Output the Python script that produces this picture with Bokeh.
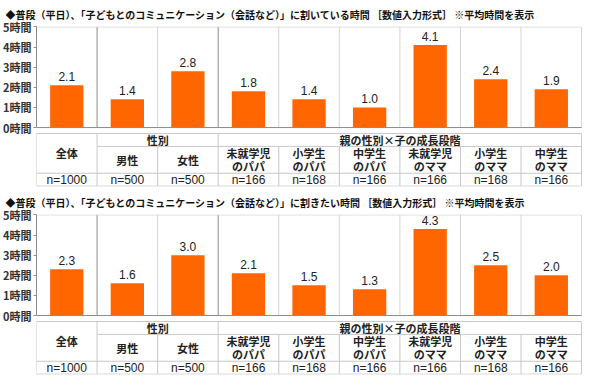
from bokeh.plotting import figure
from bokeh.models import ColumnDataSource, FixedTicker, Range1d
from bokeh.layouts import column
from bokeh.embed import file_html
from bokeh.resources import INLINE
from bokeh.core.properties import value

# ---------------- data ----------------
categories = ["全体", "男性", "女性",
              "未就学児\nのパパ", "小学生\nのパパ", "中学生\nのパパ",
              "未就学児\nのママ", "小学生\nのママ", "中学生\nのママ"]
sample_sizes = ["n=1000", "n=500", "n=500", "n=166", "n=168", "n=166",
                "n=166", "n=168", "n=166"]
spent_hours = [2.1, 1.4, 2.8, 1.8, 1.4, 1.0, 4.1, 2.4, 1.9]
wanted_hours = [2.3, 1.6, 3.0, 2.1, 1.5, 1.3, 4.3, 2.5, 2.0]
group_labels = ["性別", "親の性別×子の成長段階"]
group_first = [1, 3]
group_last = [3, 9]
panel_titles = [
    "◆普段（平日）、「子どもとのコミュニケーション（会話など）」に割いている時間 ［数値入力形式］ ※平均時間を表示",
    "◆普段（平日）、「子どもとのコミュニケーション（会話など）」に割きたい時間 ［数値入力形式］ ※平均時間を表示",
]
y_ticks = [0, 1, 2, 3, 4, 5]
y_tick_labels = ["0時間", "1時間", "2時間", "3時間", "4時間", "5時間"]

# ---------------- style ----------------
ORANGE = "#FF6600"
CJK = "Noto Sans CJK JP"
LAT = "Liberation Sans"
TXT = "#222222"
DARK_LINE = "#8c8c8c"
LIGHT_LINE = "#d4d4d4"
TABLE_LINE = "#c8c8c8"

W, H = 584, 188
TOP, BOTTOM, LEFT, RIGHT = 25, 2, 36, 2
Y0, Y1 = -2.93, 5.02
PXH = (H - TOP - BOTTOM) / (Y1 - Y0)   # pixels per hour


def py(px):
    return px / PXH


def make_panel(title, vals):
    n = len(categories)
    p = figure(width=W, height=H, x_range=Range1d(0, n + 0.015),
               y_range=Range1d(Y0, Y1), output_backend="svg",
               toolbar_location=None, min_border_left=LEFT,
               min_border_right=RIGHT, min_border_top=TOP,
               min_border_bottom=BOTTOM, x_axis_type=None, title=title)
    p.title.align = "left"
    p.title.offset = -31
    p.title.standoff = 9
    p.title.text_font = CJK
    p.title.text_font_style = "bold"
    p.title.text_font_size = "10px"
    p.title.text_color = "#111111"
    p.outline_line_color = None
    p.background_fill_color = "white"
    p.border_fill_color = "white"
    p.xgrid.visible = False
    p.ygrid.visible = False

    ax = p.yaxis[0]
    ax.ticker = FixedTicker(ticks=y_ticks)
    ax.major_label_overrides = {t: l for t, l in zip(y_ticks, y_tick_labels)}
    ax.bounds = (0, 5)
    ax.minor_tick_line_color = None
    ax.major_tick_out = 3
    ax.major_tick_in = 0
    ax.major_label_standoff = 2
    ax.axis_line_color = DARK_LINE
    ax.major_tick_line_color = DARK_LINE
    ax.major_label_text_font = CJK
    ax.major_label_text_font_style = "bold"
    ax.major_label_text_font_size = "11px"
    ax.major_label_text_color = "#333333"

    xs = [i + 0.5 for i in range(n)]

    # chart frame & dividers
    div_x = list(range(1, n))
    div_col = [DARK_LINE if (i in group_first or i in group_last) else LIGHT_LINE for i in div_x]
    p.segment(x0=div_x, y0=[0] * len(div_x), x1=div_x, y1=[5] * len(div_x),
              line_color=div_col, line_width=1)
    p.segment(x0=[0, n], y0=[5, 0], x1=[n, n], y1=[5, 5], line_color=LIGHT_LINE, line_width=1)

    src = ColumnDataSource(dict(x=xs, top=vals, lab=[f"{v:.1f}" for v in vals]))
    p.vbar(x="x", top="top", bottom=0, width=0.55, source=src,
           fill_color=ORANGE, line_color=None)
    p.segment(x0=[0], y0=[0], x1=[n], y1=[0], line_color=DARK_LINE, line_width=1)
    p.text(x="x", y="top", text="lab", source=src, text_align="center",
           text_baseline="bottom", y_offset=-4, text_font=value(LAT),
           text_font_size="12px", text_color=TXT)

    # table
    t0 = -py(6)
    t1 = t0 - py(13)
    t2 = t1 - py(27)
    t3 = t2 - py(13)
    hx0, hy0, hx1, hy1 = [], [], [], []
    for (a, b, y) in [(0, n, t0), (group_first[0], n, t1), (0, n, t2), (0, n, t3)]:
        hx0.append(a); hx1.append(b); hy0.append(y); hy1.append(y)
    for i in range(n + 1):
        in_group_inner = any(f < i < l for f, l in zip(group_first, group_last))
        hx0.append(i); hx1.append(i)
        hy0.append(t1 if in_group_inner else t0); hy1.append(t3)
    p.segment(x0=hx0, y0=hy0, x1=hx1, y1=hy1, line_color=TABLE_LINE, line_width=1)

    grouped = set()
    for f, l in zip(group_first, group_last):
        grouped.update(range(f, l))
    tx, ty, tt = [], [], []
    for i, c in enumerate(categories):
        lines = c.split("\n")
        mid = (t1 + t2) / 2 if i in grouped else (t0 + t2) / 2
        k = len(lines)
        for j, ln in enumerate(lines):
            tx.append(xs[i])
            ty.append(mid + py(13) * ((k - 1) / 2 - j))
            tt.append(ln)
    p.text(x=tx, y=ty, text=tt, text_align="center",
           text_baseline="middle", text_font=value(CJK), text_font_style="bold",
           text_font_size="11px", text_color=TXT)
    gx = [(f + l) / 2 for f, l in zip(group_first, group_last)]
    p.text(x=gx, y=[(t0 + t1) / 2] * len(gx), text=group_labels, text_align="center",
           text_baseline="middle", text_font=value(CJK), text_font_style="bold",
           text_font_size="11px", text_color=TXT)
    p.text(x=xs, y=[(t2 + t3) / 2] * n, text=sample_sizes, text_align="center",
           text_baseline="middle", text_font=value(LAT),
           text_font_size="12px", text_color=TXT)
    return p


p1 = make_panel(panel_titles[0], spent_hours)
p2 = make_panel(panel_titles[1], wanted_hours)
p = column(p1, p2, spacing=0)

open("out.html", "w").write(file_html(p, INLINE))
